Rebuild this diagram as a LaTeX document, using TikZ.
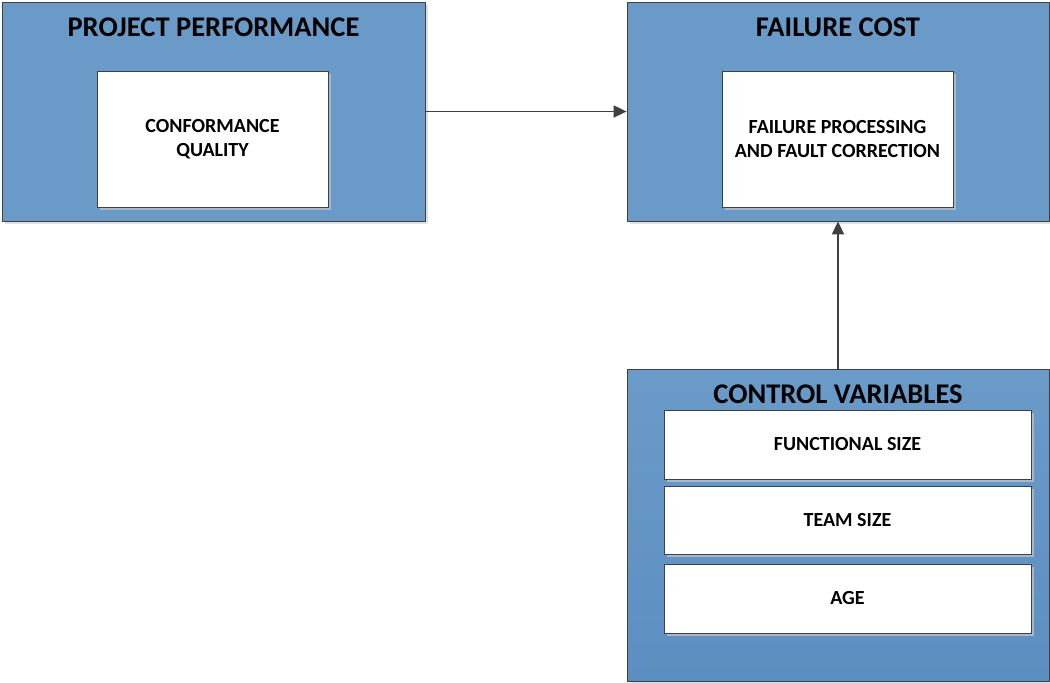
\documentclass[tikz,border=0pt]{standalone}
\usepackage{fontspec}
\setmainfont{Carlito}
\usetikzlibrary{arrows.meta,shadows}
\definecolor{boxblue}{RGB}{106,155,200}
\definecolor{boxbottom}{RGB}{92,142,193}
\definecolor{edgegray}{RGB}{64,64,64}
\definecolor{shadegray}{RGB}{165,184,205}

\begin{document}
\begin{tikzpicture}[x=1pt,y=-1pt,
  outer/.style={rectangle,draw=edgegray,fill=boxblue,line width=0.8pt,
    drop shadow={shadow xshift=3pt,shadow yshift=-3pt,fill=black!12,opacity=1}},
  inner/.style={rectangle,draw=edgegray,fill=white,line width=0.8pt,align=center,
    font=\fontsize{20}{24}\selectfont\bfseries,
    drop shadow={shadow xshift=3pt,shadow yshift=-3pt,fill=shadegray,opacity=1}},
  title/.style={font=\fontsize{28.5}{32}\selectfont\bfseries},
  link/.style={draw=edgegray,line width=1.8pt,-{Triangle[length=13pt,width=12pt]}}]

  \useasboundingbox (0,0) rectangle (1050,683);

  % outer boxes
  \node[outer,minimum width=423pt,minimum height=219pt] (perf) at (213.5,111.5) {};
  \node[outer,minimum width=422pt,minimum height=219pt] (cost) at (838,111.5) {};
  \node[outer,minimum width=422pt,minimum height=312pt,
        top color=boxblue,middle color=boxblue,bottom color=boxbottom] (ctrl) at (838,525) {};

  % titles
  \node[title] (perftitle) at (213.5,27) {PROJECT PERFORMANCE};
  \node[title] (costtitle) at (838,27)   {FAILURE COST};
  \node[title] (ctrltitle) at (838,394)  {CONTROL VARIABLES};

  % inner boxes
  \node[inner,minimum width=231pt,minimum height=136pt] (quality) at (212.5,139)
        {CONFORMANCE\\QUALITY};
  \node[inner,minimum width=231pt,minimum height=136pt] (fault) at (837.5,139)
        {FAILURE PROCESSING\\AND FAULT CORRECTION};
  \node[inner,minimum width=367pt,minimum height=69pt] (fsize) at (847.5,444.5)
        {FUNCTIONAL SIZE};
  \node[inner,minimum width=367pt,minimum height=68pt] (tsize) at (847.5,520)
        {TEAM SIZE};
  \node[inner,minimum width=367pt,minimum height=69pt] (age) at (847.5,598.5)
        {AGE};

  \path (perf) edge[link] (cost)
        (ctrl) edge[link] (cost);
\end{tikzpicture}
\end{document}
